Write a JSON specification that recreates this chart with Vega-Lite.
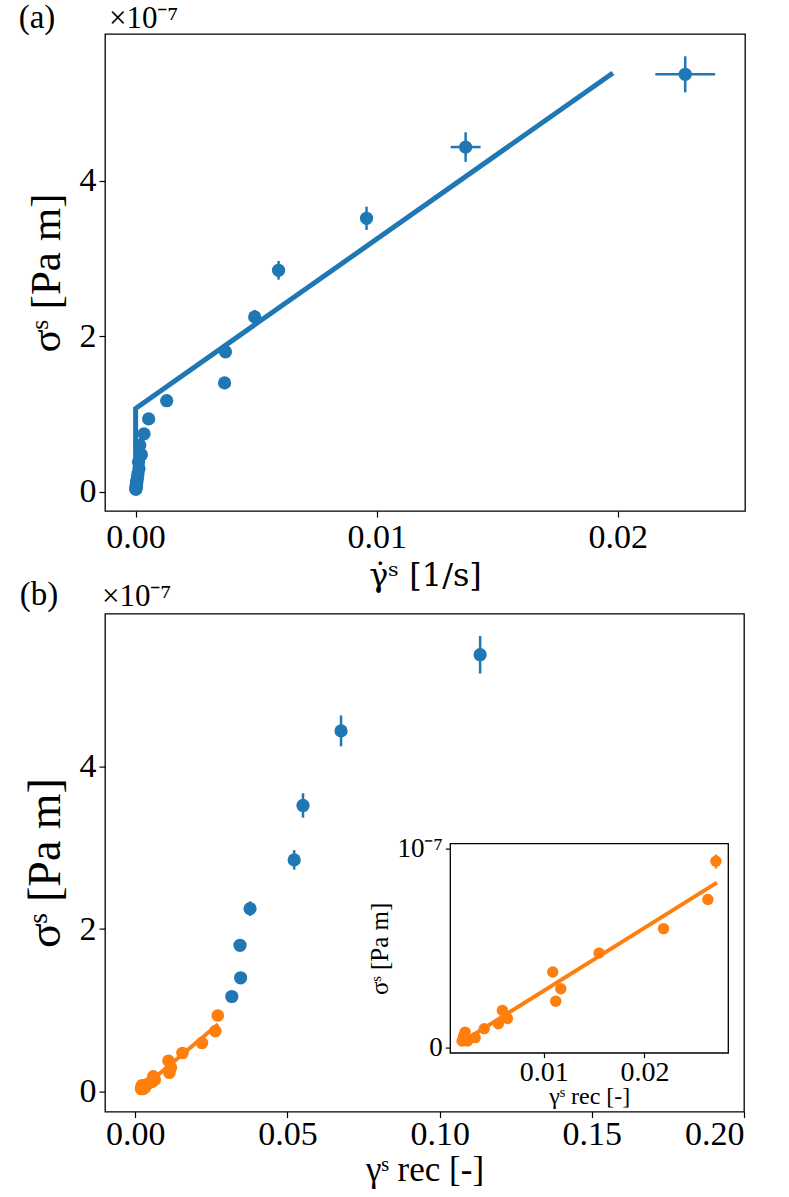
{
  "$schema": "https://vega.github.io/schema/vega-lite/v6.json",
  "background": "white",
  "padding": {"left": 18, "top": 1, "right": 5, "bottom": 0},
  "datasets": {
    "pts": [
      {"gdot": 0.0228, "gdot_lo": 0.02156, "gdot_hi": 0.02404, "sig": 5.374, "sig_lo": 5.142, "sig_hi": 5.606, "grec": 0.1133, "phase": "high"},
      {"gdot": 0.01369, "gdot_lo": 0.01307, "gdot_hi": 0.01431, "sig": 4.437, "sig_lo": 4.247, "sig_hi": 4.627, "grec": 0.0676, "phase": "high"},
      {"gdot": 0.00958, "gdot_lo": 0.00938, "gdot_hi": 0.00978, "sig": 3.52, "sig_lo": 3.37, "sig_hi": 3.67, "grec": 0.0551, "phase": "high"},
      {"gdot": 0.00593, "gdot_lo": 0.00583, "gdot_hi": 0.00603, "sig": 2.85, "sig_lo": 2.73, "sig_hi": 2.97, "grec": 0.0522, "phase": "high"},
      {"gdot": 0.00494, "gdot_lo": 0.00484, "gdot_hi": 0.00504, "sig": 2.25, "sig_lo": 2.16, "sig_hi": 2.34, "grec": 0.0377, "phase": "high"},
      {"gdot": 0.00373, "gdot_lo": 0.00373, "gdot_hi": 0.00373, "sig": 1.80, "sig_lo": 1.77, "sig_hi": 1.83, "grec": 0.0344, "phase": "high"},
      {"gdot": 0.00369, "gdot_lo": 0.00369, "gdot_hi": 0.00369, "sig": 1.40, "sig_lo": 1.37, "sig_hi": 1.43, "grec": 0.0346, "phase": "high"},
      {"gdot": 0.00129, "gdot_lo": 0.00129, "gdot_hi": 0.00129, "sig": 1.17, "sig_lo": 1.15, "sig_hi": 1.19, "grec": 0.0317, "phase": "high"},
      {"gdot": 0.00054, "gdot_lo": 0.00054, "gdot_hi": 0.00054, "sig": 0.936, "sig_lo": 0.90, "sig_hi": 0.97, "grec": 0.0271, "phase": "low"},
      {"gdot": 0.00035, "gdot_lo": 0.00035, "gdot_hi": 0.00035, "sig": 0.744, "sig_lo": 0.734, "sig_hi": 0.754, "grec": 0.0263, "phase": "low"},
      {"gdot": 0.00017, "gdot_lo": 0.00017, "gdot_hi": 0.00017, "sig": 0.598, "sig_lo": 0.588, "sig_hi": 0.608, "grec": 0.0219, "phase": "low"},
      {"gdot": 0.00024, "gdot_lo": 0.00024, "gdot_hi": 0.00024, "sig": 0.475, "sig_lo": 0.465, "sig_hi": 0.485, "grec": 0.0155, "phase": "low"},
      {"gdot": 0.00012, "gdot_lo": 0.00012, "gdot_hi": 0.00012, "sig": 0.38, "sig_lo": 0.37, "sig_hi": 0.39, "grec": 0.0109, "phase": "low"},
      {"gdot": 0.00014, "gdot_lo": 0.00014, "gdot_hi": 0.00014, "sig": 0.296, "sig_lo": 0.286, "sig_hi": 0.306, "grec": 0.0117, "phase": "low"},
      {"gdot": 0.0001, "gdot_lo": 0.0001, "gdot_hi": 0.0001, "sig": 0.233, "sig_lo": 0.223, "sig_hi": 0.243, "grec": 0.0112, "phase": "low"},
      {"gdot": 0.00008, "gdot_lo": 0.00008, "gdot_hi": 0.00008, "sig": 0.187, "sig_lo": 0.177, "sig_hi": 0.197, "grec": 0.0059, "phase": "low"},
      {"gdot": 0.00006, "gdot_lo": 0.00006, "gdot_hi": 0.00006, "sig": 0.146, "sig_lo": 0.136, "sig_hi": 0.156, "grec": 0.0064, "phase": "low"},
      {"gdot": 0.00004, "gdot_lo": 0.00004, "gdot_hi": 0.00004, "sig": 0.12, "sig_lo": 0.11, "sig_hi": 0.13, "grec": 0.0055, "phase": "low"},
      {"gdot": 0.00004, "gdot_lo": 0.00004, "gdot_hi": 0.00004, "sig": 0.095, "sig_lo": 0.085, "sig_hi": 0.105, "grec": 0.0041, "phase": "low"},
      {"gdot": 0.00003, "gdot_lo": 0.00003, "gdot_hi": 0.00003, "sig": 0.078, "sig_lo": 0.068, "sig_hi": 0.088, "grec": 0.0022, "phase": "low"},
      {"gdot": 0.00002, "gdot_lo": 0.00002, "gdot_hi": 0.00002, "sig": 0.05, "sig_lo": 0.04, "sig_hi": 0.06, "grec": 0.0032, "phase": "low"},
      {"gdot": 0.00001, "gdot_lo": 0.00001, "gdot_hi": 0.00001, "sig": 0.033, "sig_lo": 0.023, "sig_hi": 0.043, "grec": 0.0019, "phase": "low"},
      {"gdot": 0.00001, "gdot_lo": 0.00001, "gdot_hi": 0.00001, "sig": 0.033, "sig_lo": 0.023, "sig_hi": 0.043, "grec": 0.00245, "phase": "low"},
      {"gdot": 0.00002, "gdot_lo": 0.00002, "gdot_hi": 0.00002, "sig": 0.057, "sig_lo": 0.047, "sig_hi": 0.067, "grec": 0.00205, "phase": "low"}
    ],
    "fitA": [
      {"i": 0, "gdot": 0, "sig": 0},
      {"i": 1, "gdot": 0, "sig": 1.07},
      {"i": 2, "gdot": 0.0198, "sig": 5.39}
    ],
    "fitB": [
      {"grec": 0.002, "sig": 0.032},
      {"grec": 0.0272, "sig": 0.829}
    ]
  },
  "vconcat": [
    {
      "width": 640,
      "height": 477,
      "layer": [
        {
          "data": {"name": "fitA"},
          "mark": {"type": "line", "color": "#1f77b4", "strokeWidth": 5},
          "encoding": {
            "x": {"field": "gdot", "type": "quantitative", "title": "γ̇ˢ  [1/s]", "scale": {"domain": [-0.00127, 0.02528], "nice": false, "zero": false}, "axis": {"values": [0, 0.01, 0.02], "format": ".2f", "titleFont": "DejaVu Serif", "titleFontSize": 32, "titlePadding": 6}},
            "y": {"field": "sig", "type": "quantitative", "title": "σˢ [Pa m]", "scale": {"domain": [-0.25, 5.893], "nice": false, "zero": false}, "axis": {"values": [0, 2, 4], "format": "d", "titleFontSize": 43, "titlePadding": 11}},
            "order": {"field": "i", "type": "quantitative"}
          }
        },
        {
          "data": {"name": "pts"},
          "mark": {"type": "rule", "color": "#1f77b4", "strokeWidth": 2.5},
          "encoding": {
            "x": {"field": "gdot_lo", "type": "quantitative", "title": "γ̇ˢ  [1/s]"},
            "x2": {"field": "gdot_hi"},
            "y": {"field": "sig", "type": "quantitative", "title": "σˢ [Pa m]"}
          }
        },
        {
          "data": {"name": "pts"},
          "mark": {"type": "rule", "color": "#1f77b4", "strokeWidth": 2.5},
          "encoding": {
            "x": {"field": "gdot", "type": "quantitative", "title": "γ̇ˢ  [1/s]"},
            "y": {"field": "sig_lo", "type": "quantitative", "title": "σˢ [Pa m]"},
            "y2": {"field": "sig_hi"}
          }
        },
        {
          "data": {"name": "pts"},
          "mark": {"type": "point", "filled": true, "opacity": 1, "size": 175, "color": "#1f77b4"},
          "encoding": {
            "x": {"field": "gdot", "type": "quantitative", "title": "γ̇ˢ  [1/s]"},
            "y": {"field": "sig", "type": "quantitative", "title": "σˢ [Pa m]"}
          }
        },
        {
          "data": {"values": [{"label": "(a)"}]},
          "mark": {"type": "text", "align": "center", "baseline": "middle", "dx": -68, "dy": -16, "fontSize": 33, "font": "Liberation Serif", "color": "black"},
          "encoding": {
            "x": {"datum": -0.00127, "type": "quantitative"},
            "y": {"datum": 5.893, "type": "quantitative"},
            "text": {"field": "label"}
          }
        },
        {
          "data": {"values": [{"label": "×10⁻⁷"}]},
          "mark": {"type": "text", "align": "left", "baseline": "alphabetic", "dx": 4, "dy": -6, "fontSize": 31, "font": "Liberation Serif", "color": "black"},
          "encoding": {
            "x": {"datum": -0.00127, "type": "quantitative"},
            "y": {"datum": 5.893, "type": "quantitative"},
            "text": {"field": "label"}
          }
        }
      ]
    },
    {
      "width": 639,
      "height": 498,
      "layer": [
        {
          "layer": [
            {
              "data": {"name": "fitB"},
              "mark": {"type": "line", "color": "#ff7f0e", "strokeWidth": 4},
              "encoding": {
                "x": {"field": "grec", "type": "quantitative", "title": "γˢ rec [-]", "scale": {"domain": [-0.00996, 0.2], "nice": false, "zero": false}, "axis": {"values": [0, 0.05, 0.1, 0.15, 0.2], "format": ".2f", "titleFontSize": 35, "titlePadding": 1, "labelPadding": 0}},
                "y": {"field": "sig", "type": "quantitative", "title": "σˢ [Pa m]", "scale": {"domain": [-0.246, 5.88], "nice": false, "zero": false}, "axis": {"values": [0, 2, 4], "format": "d", "titleFontSize": 46, "titlePadding": 10}}
              }
            },
            {
              "data": {"name": "pts"},
              "transform": [{"filter": "datum.phase == 'high'"}],
              "mark": {"type": "rule", "color": "#1f77b4", "strokeWidth": 2.5},
              "encoding": {
                "x": {"field": "grec", "type": "quantitative", "title": "γˢ rec [-]"},
                "y": {"field": "sig_lo", "type": "quantitative", "title": "σˢ [Pa m]"},
                "y2": {"field": "sig_hi"}
              }
            },
            {
              "data": {"name": "pts"},
              "transform": [{"filter": "datum.phase == 'high'"}],
              "mark": {"type": "point", "filled": true, "opacity": 1, "size": 175, "color": "#1f77b4"},
              "encoding": {
                "x": {"field": "grec", "type": "quantitative", "title": "γˢ rec [-]"},
                "y": {"field": "sig", "type": "quantitative", "title": "σˢ [Pa m]"}
              }
            },
            {
              "data": {"name": "pts"},
              "transform": [{"filter": "datum.phase == 'low'"}],
              "mark": {"type": "point", "filled": true, "opacity": 1, "size": 160, "color": "#ff7f0e"},
              "encoding": {
                "x": {"field": "grec", "type": "quantitative", "title": "γˢ rec [-]"},
                "y": {"field": "sig", "type": "quantitative", "title": "σˢ [Pa m]"}
              }
            },
            {
              "data": {"values": [{"label": "(b)"}]},
              "mark": {"type": "text", "align": "center", "baseline": "middle", "dx": -66, "dy": -19, "fontSize": 33, "font": "Liberation Serif", "color": "black"},
              "encoding": {
                "x": {"datum": -0.00996, "type": "quantitative"},
                "y": {"datum": 5.88, "type": "quantitative"},
                "text": {"field": "label"}
              }
            },
            {
              "data": {"values": [{"label": "×10⁻⁷"}]},
              "mark": {"type": "text", "align": "left", "baseline": "alphabetic", "dx": -3, "dy": -8, "fontSize": 31, "font": "Liberation Serif", "color": "black"},
              "encoding": {
                "x": {"datum": -0.00996, "type": "quantitative"},
                "y": {"datum": 5.88, "type": "quantitative"},
                "text": {"field": "label"}
              }
            }
          ]
        },
        {
          "layer": [
            {
              "data": {"values": [{"box": "inset"}]},
              "mark": {"type": "rect", "fill": "white", "stroke": "black", "strokeWidth": 1.3},
              "encoding": {
                "x": {"datum": 0.00073, "type": "quantitative", "title": "γˢ rec  [-]", "scale": {"domain": [0.00073, 0.02833], "range": [345.3, 623.3], "nice": false, "zero": false}, "axis": {"orient": "bottom", "offset": -59, "values": [0.01, 0.02], "format": ".2f", "labelFontSize": 28, "labelPadding": 1, "titleFontSize": 24, "titlePadding": -2, "tickSize": 5}},
                "x2": {"datum": 0.02833},
                "y": {"datum": -0.027, "type": "quantitative", "title": "σˢ [Pa m]", "scale": {"domain": [-0.027, 1.025], "range": [439.4, 230], "nice": false, "zero": false}, "axis": {"orient": "left", "offset": -345.3, "values": [0, 1], "labelExpr": "datum.value == 1 ? '10⁻⁷' : '0'", "labelFontSize": 27, "labelPadding": 3, "titleFontSize": 25, "titlePadding": 4, "tickSize": 5}},
                "y2": {"datum": 1.025}
              }
            },
            {
              "data": {"name": "fitB"},
              "mark": {"type": "line", "color": "#ff7f0e", "strokeWidth": 4},
              "encoding": {
                "x": {"field": "grec", "type": "quantitative", "title": "γˢ rec  [-]"},
                "y": {"field": "sig", "type": "quantitative", "title": "σˢ [Pa m]"}
              }
            },
            {
              "data": {"name": "pts"},
              "transform": [{"filter": "datum.phase == 'low'"}],
              "mark": {"type": "rule", "color": "#ff7f0e", "strokeWidth": 2.5},
              "encoding": {
                "x": {"field": "grec", "type": "quantitative", "title": "γˢ rec  [-]"},
                "y": {"field": "sig_lo", "type": "quantitative", "title": "σˢ [Pa m]"},
                "y2": {"field": "sig_hi"}
              }
            },
            {
              "data": {"name": "pts"},
              "transform": [{"filter": "datum.phase == 'low'"}],
              "mark": {"type": "point", "filled": true, "opacity": 1, "size": 130, "color": "#ff7f0e"},
              "encoding": {
                "x": {"field": "grec", "type": "quantitative", "title": "γˢ rec  [-]"},
                "y": {"field": "sig", "type": "quantitative", "title": "σˢ [Pa m]"}
              }
            }
          ]
        }
      ],
      "resolve": {"scale": {"x": "independent", "y": "independent"}, "axis": {"x": "independent", "y": "independent"}}
    }
  ],
  "spacing": 102.6,
  "bounds": "flush",
  "config": {
    "font": "Liberation Serif",
    "view": {"stroke": "black", "strokeWidth": 1.3},
    "axis": {
      "grid": false,
      "domain": false,
      "ticks": true,
      "tickColor": "black",
      "tickWidth": 1.2,
      "tickSize": 6,
      "labelFont": "Liberation Serif",
      "labelFontSize": 34,
      "labelColor": "black",
      "labelPadding": 3,
      "titleFont": "Liberation Serif",
      "titleFontSize": 38,
      "titleFontWeight": "normal",
      "titleColor": "black",
      "titlePadding": 10
    }
  }
}
